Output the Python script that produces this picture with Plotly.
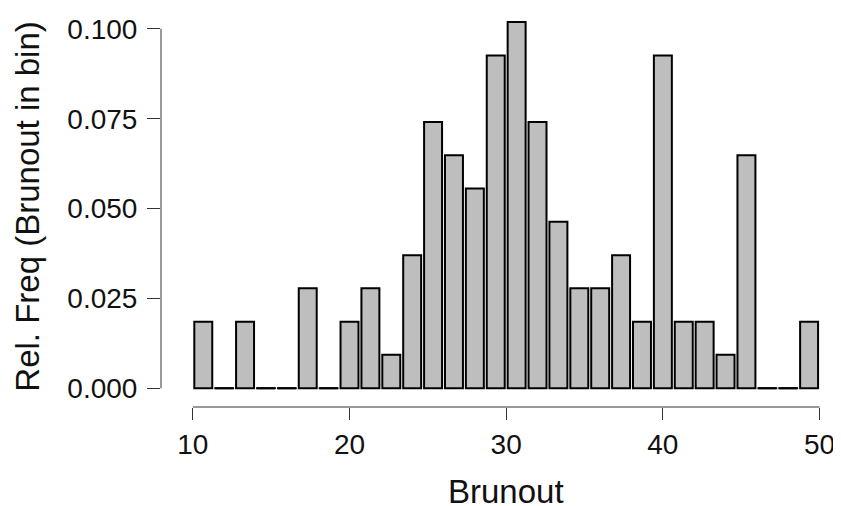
import plotly.graph_objects as go

# Data (30 bins of width 4/3 from 10 to 50)
bin_start = 10
bin_end = 50
n_bins = 30
rel_freq = [0.0185, 0.0, 0.0185, 0.0, 0.0, 0.0278, 0.0, 0.0185, 0.0278, 0.0093,
            0.0370, 0.0741, 0.0648, 0.0556, 0.0926, 0.1019, 0.0741, 0.0463, 0.0278, 0.0278,
            0.0370, 0.0185, 0.0926, 0.0185, 0.0185, 0.0093, 0.0648, 0.0, 0.0, 0.0185]
x_ticks = [10, 20, 30, 40, 50]
y_ticks = [0.0, 0.025, 0.05, 0.075, 0.1]
y_tick_text = ["0.000", "0.025", "0.050", "0.075", "0.100"]

bin_w = (bin_end - bin_start) / n_bins
centers = [bin_start + (i + 0.5) * bin_w for i in range(n_bins)]
bargap = 0.14

fig = go.Figure()
fig.add_trace(go.Bar(
    x=centers, y=rel_freq, width=[bin_w * (1 - bargap)] * n_bins,
    marker=dict(color="#bebebe", line=dict(color="#000000", width=2)),
    hoverinfo="skip", showlegend=False,
))

# zero-height bins are drawn as flat segments on the baseline
zx, zy = [], []
half = bin_w * (1 - bargap) / 2
for c, v in zip(centers, rel_freq):
    if v == 0:
        zx += [c - half - 0.06, c + half + 0.06, None]
        zy += [0, 0, None]
fig.add_trace(go.Scatter(x=zx, y=zy, mode="lines",
                         line=dict(color="#000000", width=2),
                         hoverinfo="skip", showlegend=False))

font_tick = dict(family="Liberation Sans, Arial, sans-serif", size=28, color="#111111")
font_title = dict(family="Liberation Sans, Arial, sans-serif", size=33, color="#111111")

# the page body has an 8px margin, so the figure is drawn 8px smaller
body_off = 8
px_per_x = 15.75
px_per_y = 3640.0
fig.update_layout(
    width=841 - body_off, height=506 - body_off,
    margin=dict(l=161 - body_off, r=10, t=14 - body_off, b=99),
    plot_bgcolor="white", paper_bgcolor="white",
    bargap=bargap,
    xaxis=dict(range=[bin_start - 32 / px_per_x, bin_end + 8.5 / px_per_x],
               tickvals=x_ticks, ticktext=[str(t) for t in x_ticks],
               ticks="outside", ticklen=12, tickwidth=1, tickcolor="#333333",
               showgrid=False, zeroline=False, showline=False,
               tickfont=font_tick, ticklabelstandoff=0),
    yaxis=dict(range=[-19 / px_per_y, 0.1 + 10 / px_per_y],
               tickvals=y_ticks, ticktext=y_tick_text,
               ticks="outside", ticklen=13, tickwidth=1, tickcolor="#333333",
               showgrid=False, zeroline=False, showline=False,
               tickfont=font_tick, ticklabelstandoff=4),
    shapes=[
        dict(type="line", xref="paper", yref="y", x0=0, x1=0, y0=0, y1=0.1,
             line=dict(color="#333333", width=1)),
        dict(type="line", xref="x", yref="paper", x0=bin_start, x1=bin_end, y0=0, y1=0,
             line=dict(color="#333333", width=1)),
    ],
    annotations=[
        dict(text="Brunout", x=30, xref="x", y=(407 - 492.8) / 393, yref="paper",
             xanchor="center", yanchor="middle", showarrow=False, font=font_title),
        dict(text="Rel. Freq (Brunout in bin)", x=(26 - 161) / 670, xref="paper",
             y=(388 - 203.5) / px_per_y, yref="y", textangle=-90,
             xanchor="center", yanchor="middle", showarrow=False, font=font_title),
    ],
)

fig.write_html("out.html")
